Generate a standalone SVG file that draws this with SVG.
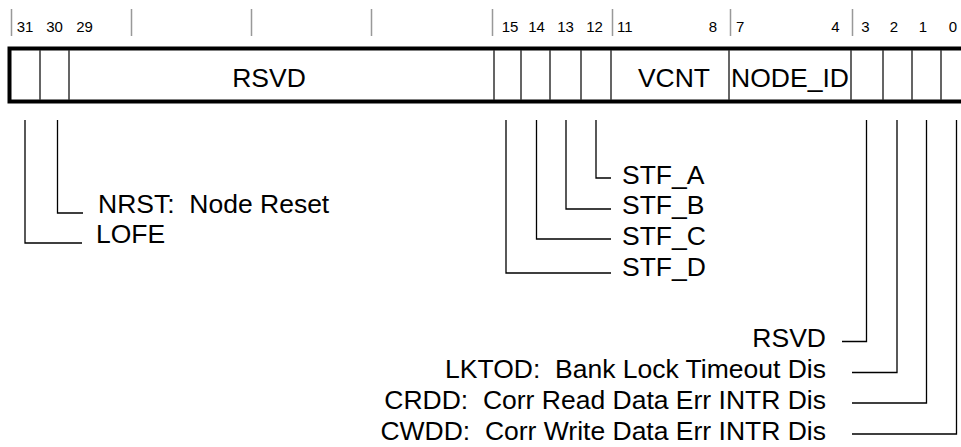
<svg xmlns="http://www.w3.org/2000/svg" width="961" height="447" viewBox="0 0 961 447">
<style>
text{font-family:"Liberation Sans",Arial,sans-serif;fill:#000;white-space:pre}
.n{font-size:15px}
.t{font-size:26.5px}
.tick{stroke:#999;stroke-width:1.5;fill:none}
.div{stroke:#333;stroke-width:1.5;fill:none}
.ld{stroke:#000;stroke-width:1.3;fill:none}
</style>
<rect width="961" height="447" fill="#fff"/>
<g id="ticks">
<path class="tick" d="M11.5 9V36M131.5 9V36M251.5 9V36M371.5 9V36M492.5 9V36M612.5 9V36M730.5 9V36M852.5 9V36"/>
</g>
<g id="bitnums" class="n">
<text x="25" y="32" text-anchor="middle">31</text>
<text x="54.5" y="32" text-anchor="middle">30</text>
<text x="84.5" y="32" text-anchor="middle">29</text>
<text x="510" y="32" text-anchor="middle">15</text>
<text x="536.5" y="32" text-anchor="middle">14</text>
<text x="565.5" y="32" text-anchor="middle">13</text>
<text x="594.5" y="32" text-anchor="middle">12</text>
<text x="617" y="32">11</text>
<text x="717" y="32" text-anchor="end">8</text>
<text x="736" y="32">7</text>
<text x="839.5" y="32" text-anchor="end">4</text>
<text x="865.5" y="32" text-anchor="middle">3</text>
<text x="894" y="32" text-anchor="middle">2</text>
<text x="923" y="32" text-anchor="middle">1</text>
<text x="953" y="32" text-anchor="middle">0</text>
</g>
<g id="register">
<rect x="9.5" y="48.5" width="970" height="53" fill="none" stroke="#000" stroke-width="4"/>
<path class="div" d="M40 50V100M69 50V100M494 50V100M521 50V100M550 50V100M581 50V100M611 50V100M729 50V100M851 50V100M883 50V100M912 50V100M941 50V100"/>
<text class="t" x="269" y="87" text-anchor="middle">RSVD</text>
<text class="t" x="674" y="87" text-anchor="middle">VCNT</text>
<text class="t" x="790" y="87" text-anchor="middle">NODE_ID</text>
</g>
<g id="connectors">
<path class="ld" d="M25 120V243H82"/>
<path class="ld" d="M57.5 120V213H83"/>
<path class="ld" d="M596 120V178H611"/>
<path class="ld" d="M566 120V209H611"/>
<path class="ld" d="M536.5 120V239H611"/>
<path class="ld" d="M506 120V273H611"/>
<path class="ld" d="M866.5 120V341.5H842"/>
<path class="ld" d="M897 120V372.5H852"/>
<path class="ld" d="M926.5 120V403H852"/>
<path class="ld" d="M956.5 120V434H852"/>
</g>
<g id="label-nrst"><text class="t" x="98" y="213">NRST:  Node Reset</text></g>
<g id="label-lofe"><text class="t" x="96" y="243">LOFE</text></g>
<g id="label-stfa"><text class="t" x="622" y="184">STF_A</text></g>
<g id="label-stfb"><text class="t" x="622" y="214">STF_B</text></g>
<g id="label-stfc"><text class="t" x="622" y="245">STF_C</text></g>
<g id="label-stfd"><text class="t" x="622" y="276">STF_D</text></g>
<g id="label-rsvd"><text class="t" x="826" y="346.5" text-anchor="end">RSVD</text></g>
<g id="label-lktod"><text class="t" x="826" y="378" text-anchor="end">LKTOD:  Bank Lock Timeout Dis</text></g>
<g id="label-crdd"><text class="t" x="826" y="409" text-anchor="end">CRDD:  Corr Read Data Err INTR Dis</text></g>
<g id="label-cwdd"><text class="t" x="826" y="440" text-anchor="end">CWDD:  Corr Write Data Err INTR Dis</text></g>
</svg>
